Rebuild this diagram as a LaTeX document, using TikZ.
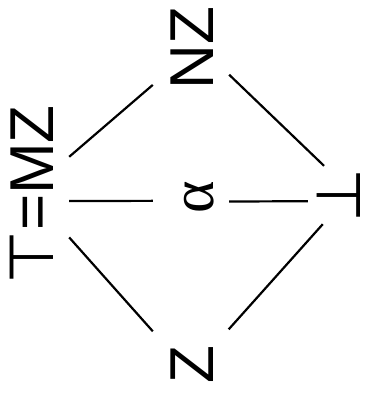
\documentclass[tikz,border=0pt]{standalone}
\usepackage{fontspec}
\setmainfont{Liberation Sans}
\newfontfamily\symfont{DejaVu Sans}
\newfontfamily\alphafont{Liberation Serif}

\tikzset{
  lbl/.style={inner sep=16pt, anchor=base, text height=44pt, text depth=0pt,
    font=\fontsize{62}{70}\selectfont},
  link/.style={line width=2.2pt}
}

\begin{document}
\begin{tikzpicture}[x=1pt,y=1pt,rotate=90,transform shape]
\useasboundingbox (-402,-367) rectangle (0,0);
% labels, drawn lying on their side
\node[lbl] (tmz) at (-195,-53) {{\symfont ⊤}=MZ};
\node[lbl] (nz) at (-48,-213) {NZ};
\node[lbl] (al) at (-197.5,-213) {{\alphafont α}};
\node[lbl] (z) at (-364.5,-213) {Z};
\node[lbl,inner xsep=2pt,inner ysep=6pt,text height=46pt] (bot) at (-195,-360) {{\symfont ⊥}};

% connectors
\draw[link] (nz.134.7) -- (tmz.315);
\draw[link] (nz.235.1) -- (bot.24);
\draw[link] (tmz.222.9) -- (z.49.7);
\draw[link] (bot.154.3) -- (z.313.1);
\draw[link] (tmz.261) -- (al.95.3);
\draw[link] (al.264.7) -- (bot.102);
\end{tikzpicture}
\end{document}
